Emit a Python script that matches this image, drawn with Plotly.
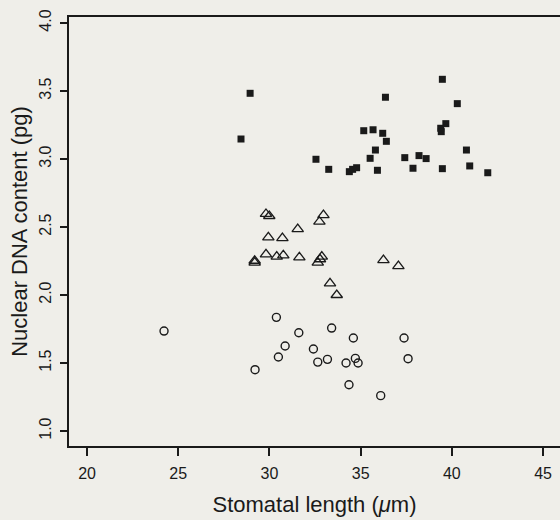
import plotly.graph_objects as go

# Filled squares
sq_x = [28.94, 28.44, 39.48, 36.36, 40.30, 39.67, 39.39, 39.42, 35.17, 35.68, 36.21, 36.41,
        35.81, 40.80, 35.52, 32.55, 37.42, 38.20, 38.59, 33.25, 34.38, 34.56, 34.78, 35.92,
        37.87, 39.48, 40.98, 41.97]
sq_y = [3.483, 3.147, 3.586, 3.454, 3.407, 3.260, 3.226, 3.201, 3.208, 3.215, 3.189, 3.130,
        3.066, 3.066, 3.005, 2.998, 3.010, 3.025, 3.003, 2.924, 2.907, 2.924, 2.936, 2.917,
        2.932, 2.929, 2.949, 2.899]

# Open triangles
tri_x = [29.81, 29.99, 31.55, 29.94, 30.71, 29.81, 30.40, 30.76, 31.64, 29.19, 29.19,
         32.96, 32.74, 32.87, 32.77, 32.65, 36.25, 37.07, 33.32, 33.69]
tri_y = [2.596, 2.581, 2.485, 2.424, 2.419, 2.299, 2.282, 2.292, 2.277, 2.252, 2.238,
         2.588, 2.539, 2.282, 2.263, 2.238, 2.257, 2.213, 2.086, 2.000]

# Open circles
cir_x = [24.22, 30.38, 31.61, 30.86, 30.49, 29.21, 33.41, 34.60, 37.38, 32.41, 32.65,
         33.18, 34.20, 34.71, 34.86, 37.60, 34.36, 36.10]
cir_y = [1.735, 1.836, 1.723, 1.625, 1.544, 1.451, 1.757, 1.684, 1.684, 1.603, 1.507,
         1.527, 1.500, 1.534, 1.500, 1.532, 1.340, 1.260]

x_ticks = [20, 25, 30, 35, 40, 45]
y_ticks = [1.0, 1.5, 2.0, 2.5, 3.0, 3.5, 4.0]
y_tick_text = ["1.0", "1.5", "2.0", "2.5", "3.0", "3.5", "4.0"]

ink = "#1a1a1a"
bg = "#efeee9"

fig = go.Figure()
fig.add_trace(go.Scatter(x=sq_x, y=sq_y, mode="markers",
                         marker=dict(symbol="square", size=7, color=ink, line=dict(width=0))))
fig.add_trace(go.Scatter(x=tri_x, y=tri_y, mode="markers",
                         marker=dict(symbol="triangle-up-open", size=10, color=ink,
                                     line=dict(width=1.3, color=ink))))
fig.add_trace(go.Scatter(x=cir_x, y=cir_y, mode="markers",
                         marker=dict(symbol="circle-open", size=8, color=ink,
                                     line=dict(width=1.4, color=ink))))

font = "Liberation Sans, Arial, Helvetica, sans-serif"
fig.update_layout(
    width=560, height=520,
    margin=dict(l=69, r=0, t=17, b=74),
    paper_bgcolor=bg, plot_bgcolor=bg,
    showlegend=False,
    font=dict(family=font, color=ink, size=16),
    xaxis=dict(range=[19.01, 45.93], tickvals=x_ticks, ticks="outside", ticklen=8,
               tickwidth=1.5, tickcolor=ink, showline=True, linecolor=ink, linewidth=2,
               mirror=True, showgrid=False, zeroline=False, ticklabelstandoff=4,
               tickfont=dict(size=16),
               title=dict(text="Stomatal length (<i>μ</i>m)", font=dict(size=22), standoff=15)),
    yaxis=dict(range=[0.89, 4.044], tickvals=y_ticks, ticktext=y_tick_text, ticks="outside",
               ticklen=7, tickwidth=1.5, tickcolor=ink, showline=True, linecolor=ink,
               linewidth=2, mirror=False, showgrid=False, zeroline=False, tickangle=-90,
               ticklabelstandoff=3, tickfont=dict(size=16),
               title=dict(text="Nuclear DNA content (pg)", font=dict(size=22), standoff=3)),
)

fig.write_html(
    "out.html",
    config={"displayModeBar": False},
    post_script="document.body.style.margin='0';document.body.style.padding='0';"
                "document.body.style.background='#efeee9';"
                "document.documentElement.style.background='#efeee9';"
                "document.body.style.overflow='hidden';",
)
